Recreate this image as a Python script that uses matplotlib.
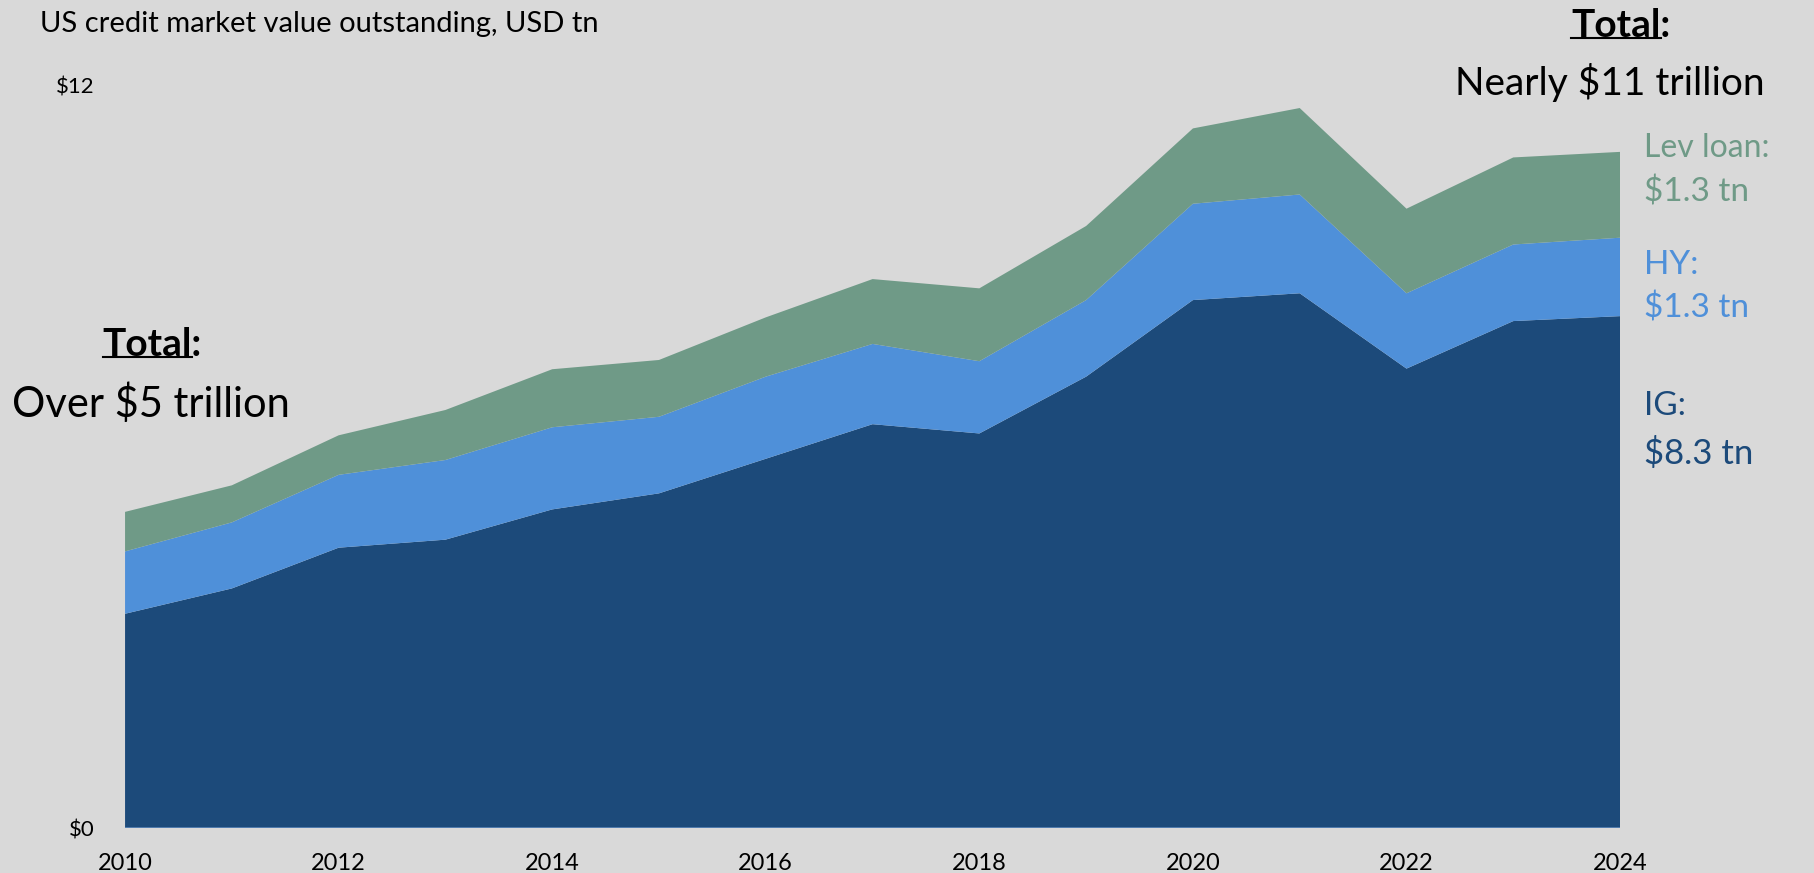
import matplotlib
matplotlib.use("Agg")
import matplotlib.pyplot as plt
from matplotlib.lines import Line2D
import numpy as np

# dane, USD tn
years = [2010, 2011, 2012, 2013, 2014, 2015, 2016, 2017, 2018, 2019, 2020, 2021, 2022, 2023, 2024]
ig = [3.47, 3.88, 4.54, 4.67, 5.16, 5.42, 5.98, 6.54, 6.39, 7.31, 8.55, 8.66, 7.44, 8.21, 8.29]
hy = [1.01, 1.07, 1.18, 1.29, 1.33, 1.24, 1.33, 1.30, 1.17, 1.24, 1.56, 1.60, 1.22, 1.24, 1.27]
lev = [0.64, 0.60, 0.64, 0.81, 0.94, 0.92, 0.96, 1.05, 1.18, 1.20, 1.22, 1.40, 1.37, 1.41, 1.39]
xticks = [2010, 2012, 2014, 2016, 2018, 2020, 2022, 2024]

bg = "#d9d9d9"
c_ig = "#1c4a7a"
c_hy = "#4f90d9"
c_lev = "#6f9a87"

plt.rcParams["font.family"] = ["Lato", "DejaVu Sans"]

fig = plt.figure(figsize=(18.15, 8.73), dpi=100, facecolor=bg)
ax = fig.add_axes([0.0689, 0.0515, 0.8237, 0.8488], facecolor=bg)

ax.stackplot(years, ig, hy, lev, colors=[c_ig, c_hy, c_lev], linewidth=0)
ax.axhline(0, color="#5b86b8", lw=1.2)

ax.set_xlim(2010, 2024)
ax.set_ylim(0, 12)
for s in ax.spines.values():
    s.set_visible(False)
ax.set_yticks([0, 12])
ax.set_yticklabels(["$0", "$12"], fontsize=16)
ax.set_xticks(xticks)
ax.set_xticklabels([str(y) for y in xticks], fontsize=17)
ax.tick_params(length=0, pad=18)
ax.tick_params(axis="y", pad=22)
ax.get_yticklabels()[1].set_va("center")

fig.text(0.022, 0.973, "US credit market value outstanding, USD tn", fontsize=21, va="center", ha="left")

# podpisy z podkreśleniem
def total_label(x, y, size):
    t = fig.text(x, y, "Total:", fontsize=size, weight="bold", ha="center", va="center")
    fig.canvas.draw()
    r = fig.canvas.get_renderer()
    bb = t.get_window_extent(r)
    tmp = fig.text(0, 0, "Total", fontsize=size, weight="bold")
    w = tmp.get_window_extent(r).width
    tmp.remove()
    y0 = bb.y0 + 5
    fig.add_artist(Line2D([bb.x0 / fig.bbox.width, (bb.x0 + w) / fig.bbox.width],
                          [y0 / fig.bbox.height, y0 / fig.bbox.height], color="black", lw=1.5))

total_label(0.084, 0.605, 28)
fig.text(0.083, 0.537, "Over $5 trillion", fontsize=30, ha="center", va="center")
total_label(0.893, 0.971, 28)
fig.text(0.887, 0.905, "Nearly $11 trillion", fontsize=28, ha="center", va="center")

fig.text(0.906, 0.830, "Lev loan:", fontsize=23, color=c_lev, va="center")
fig.text(0.906, 0.780, "$1.3 tn", fontsize=24, color=c_lev, va="center")
fig.text(0.906, 0.697, "HY:", fontsize=24, color=c_hy, va="center")
fig.text(0.906, 0.647, "$1.3 tn", fontsize=24, color=c_hy, va="center")
fig.text(0.906, 0.535, "IG:", fontsize=24, color=c_ig, va="center")
fig.text(0.906, 0.481, "$8.3 tn", fontsize=25, color=c_ig, va="center")

fig.savefig("out.png", dpi=100, facecolor=bg)
